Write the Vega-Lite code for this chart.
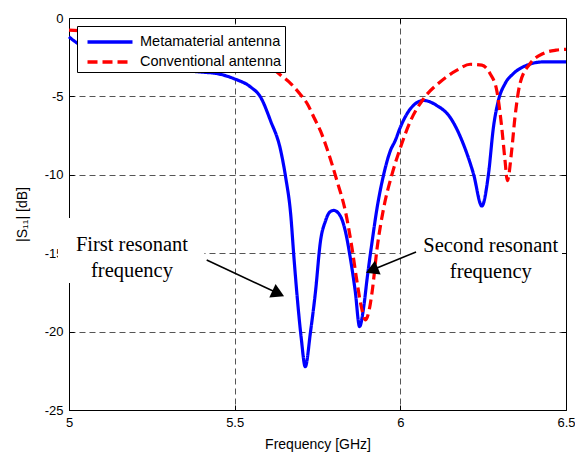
{
  "$schema": "https://vega.github.io/schema/vega-lite/v6.json",
  "width": 497,
  "height": 392,
  "autosize": {"type": "none"},
  "padding": {"left": 69, "top": 18, "right": 9, "bottom": 42},
  "background": "white",
  "config": {
    "view": {"stroke": "black", "strokeWidth": 1},
    "font": "Liberation Sans",
    "axis": {
      "labelFont": "Liberation Sans",
      "titleFont": "Liberation Sans",
      "labelFontSize": 13,
      "titleFontSize": 14,
      "titleFontWeight": "normal",
      "labelColor": "black",
      "titleColor": "black",
      "domainColor": "black",
      "tickColor": "black",
      "tickSize": -5,
      "labelFlush": false,
      "gridDash": [6, 4],
      "gridColor": "#555555",
      "gridWidth": 1
    },
    "legend": {
      "orient": "top-left",
      "offset": 8,
      "fillColor": "white",
      "strokeColor": "black",
      "padding": 3,
      "labelFont": "Liberation Sans",
      "labelFontSize": 14.5,
      "labelColor": "black",
      "symbolType": "M-2,0H2",
      "symbolSize": 506,
      "symbolStrokeWidth": 3.5,
      "rowPadding": -0.5,
      "labelOffset": 17,
      "symbolOffset": 17,
      "labelLimit": 300
    }
  },
  "datasets": {
    "curves": [
      {"antenna": "Metamaterial antenna", "f": 5.000, "s11": -1.20},
      {"antenna": "Metamaterial antenna", "f": 5.026, "s11": -1.62},
      {"antenna": "Metamaterial antenna", "f": 5.060, "s11": -2.00},
      {"antenna": "Metamaterial antenna", "f": 5.100, "s11": -2.30},
      {"antenna": "Metamaterial antenna", "f": 5.150, "s11": -2.60},
      {"antenna": "Metamaterial antenna", "f": 5.200, "s11": -2.85},
      {"antenna": "Metamaterial antenna", "f": 5.250, "s11": -3.05},
      {"antenna": "Metamaterial antenna", "f": 5.300, "s11": -3.20},
      {"antenna": "Metamaterial antenna", "f": 5.350, "s11": -3.35},
      {"antenna": "Metamaterial antenna", "f": 5.400, "s11": -3.45},
      {"antenna": "Metamaterial antenna", "f": 5.448, "s11": -3.55},
      {"antenna": "Metamaterial antenna", "f": 5.498, "s11": -3.87},
      {"antenna": "Metamaterial antenna", "f": 5.548, "s11": -4.40},
      {"antenna": "Metamaterial antenna", "f": 5.578, "s11": -5.04},
      {"antenna": "Metamaterial antenna", "f": 5.608, "s11": -6.54},
      {"antenna": "Metamaterial antenna", "f": 5.639, "s11": -8.46},
      {"antenna": "Metamaterial antenna", "f": 5.654, "s11": -10.17},
      {"antenna": "Metamaterial antenna", "f": 5.669, "s11": -12.50},
      {"antenna": "Metamaterial antenna", "f": 5.679, "s11": -15.30},
      {"antenna": "Metamaterial antenna", "f": 5.689, "s11": -17.86},
      {"antenna": "Metamaterial antenna", "f": 5.701, "s11": -20.43},
      {"antenna": "Metamaterial antenna", "f": 5.713, "s11": -22.24},
      {"antenna": "Metamaterial antenna", "f": 5.729, "s11": -20.00},
      {"antenna": "Metamaterial antenna", "f": 5.744, "s11": -17.44},
      {"antenna": "Metamaterial antenna", "f": 5.759, "s11": -14.23},
      {"antenna": "Metamaterial antenna", "f": 5.774, "s11": -12.95},
      {"antenna": "Metamaterial antenna", "f": 5.786, "s11": -12.40},
      {"antenna": "Metamaterial antenna", "f": 5.799, "s11": -12.27},
      {"antenna": "Metamaterial antenna", "f": 5.819, "s11": -12.63},
      {"antenna": "Metamaterial antenna", "f": 5.834, "s11": -13.59},
      {"antenna": "Metamaterial antenna", "f": 5.849, "s11": -15.30},
      {"antenna": "Metamaterial antenna", "f": 5.864, "s11": -17.44},
      {"antenna": "Metamaterial antenna", "f": 5.877, "s11": -19.68},
      {"antenna": "Metamaterial antenna", "f": 5.889, "s11": -18.50},
      {"antenna": "Metamaterial antenna", "f": 5.900, "s11": -16.58},
      {"antenna": "Metamaterial antenna", "f": 5.915, "s11": -14.23},
      {"antenna": "Metamaterial antenna", "f": 5.930, "s11": -12.09},
      {"antenna": "Metamaterial antenna", "f": 5.950, "s11": -9.96},
      {"antenna": "Metamaterial antenna", "f": 5.970, "s11": -8.46},
      {"antenna": "Metamaterial antenna", "f": 5.985, "s11": -7.80},
      {"antenna": "Metamaterial antenna", "f": 6.000, "s11": -6.97},
      {"antenna": "Metamaterial antenna", "f": 6.030, "s11": -5.80},
      {"antenna": "Metamaterial antenna", "f": 6.070, "s11": -5.26},
      {"antenna": "Metamaterial antenna", "f": 6.110, "s11": -5.58},
      {"antenna": "Metamaterial antenna", "f": 6.150, "s11": -6.33},
      {"antenna": "Metamaterial antenna", "f": 6.190, "s11": -8.03},
      {"antenna": "Metamaterial antenna", "f": 6.221, "s11": -9.96},
      {"antenna": "Metamaterial antenna", "f": 6.246, "s11": -11.99},
      {"antenna": "Metamaterial antenna", "f": 6.266, "s11": -9.96},
      {"antenna": "Metamaterial antenna", "f": 6.281, "s11": -6.97},
      {"antenna": "Metamaterial antenna", "f": 6.296, "s11": -5.26},
      {"antenna": "Metamaterial antenna", "f": 6.316, "s11": -4.19},
      {"antenna": "Metamaterial antenna", "f": 6.341, "s11": -3.55},
      {"antenna": "Metamaterial antenna", "f": 6.382, "s11": -3.01},
      {"antenna": "Metamaterial antenna", "f": 6.432, "s11": -2.80},
      {"antenna": "Metamaterial antenna", "f": 6.500, "s11": -2.80},
      {"antenna": "Conventional antenna", "f": 5.000, "s11": -0.77},
      {"antenna": "Conventional antenna", "f": 5.030, "s11": -0.80},
      {"antenna": "Conventional antenna", "f": 5.100, "s11": -0.90},
      {"antenna": "Conventional antenna", "f": 5.200, "s11": -1.10},
      {"antenna": "Conventional antenna", "f": 5.300, "s11": -1.40},
      {"antenna": "Conventional antenna", "f": 5.400, "s11": -1.80},
      {"antenna": "Conventional antenna", "f": 5.500, "s11": -2.30},
      {"antenna": "Conventional antenna", "f": 5.550, "s11": -2.60},
      {"antenna": "Conventional antenna", "f": 5.600, "s11": -3.00},
      {"antenna": "Conventional antenna", "f": 5.639, "s11": -3.65},
      {"antenna": "Conventional antenna", "f": 5.670, "s11": -4.20},
      {"antenna": "Conventional antenna", "f": 5.699, "s11": -4.90},
      {"antenna": "Conventional antenna", "f": 5.720, "s11": -5.50},
      {"antenna": "Conventional antenna", "f": 5.739, "s11": -6.33},
      {"antenna": "Conventional antenna", "f": 5.759, "s11": -7.20},
      {"antenna": "Conventional antenna", "f": 5.779, "s11": -8.35},
      {"antenna": "Conventional antenna", "f": 5.809, "s11": -10.40},
      {"antenna": "Conventional antenna", "f": 5.834, "s11": -12.31},
      {"antenna": "Conventional antenna", "f": 5.854, "s11": -14.66},
      {"antenna": "Conventional antenna", "f": 5.869, "s11": -16.79},
      {"antenna": "Conventional antenna", "f": 5.881, "s11": -18.29},
      {"antenna": "Conventional antenna", "f": 5.895, "s11": -19.25},
      {"antenna": "Conventional antenna", "f": 5.905, "s11": -18.72},
      {"antenna": "Conventional antenna", "f": 5.915, "s11": -17.44},
      {"antenna": "Conventional antenna", "f": 5.930, "s11": -14.66},
      {"antenna": "Conventional antenna", "f": 5.950, "s11": -12.09},
      {"antenna": "Conventional antenna", "f": 5.975, "s11": -9.96},
      {"antenna": "Conventional antenna", "f": 6.003, "s11": -8.10},
      {"antenna": "Conventional antenna", "f": 6.030, "s11": -6.60},
      {"antenna": "Conventional antenna", "f": 6.070, "s11": -5.15},
      {"antenna": "Conventional antenna", "f": 6.120, "s11": -4.08},
      {"antenna": "Conventional antenna", "f": 6.171, "s11": -3.33},
      {"antenna": "Conventional antenna", "f": 6.211, "s11": -2.95},
      {"antenna": "Conventional antenna", "f": 6.246, "s11": -3.01},
      {"antenna": "Conventional antenna", "f": 6.271, "s11": -3.55},
      {"antenna": "Conventional antenna", "f": 6.291, "s11": -4.62},
      {"antenna": "Conventional antenna", "f": 6.306, "s11": -6.97},
      {"antenna": "Conventional antenna", "f": 6.316, "s11": -9.10},
      {"antenna": "Conventional antenna", "f": 6.323, "s11": -10.38},
      {"antenna": "Conventional antenna", "f": 6.336, "s11": -8.46},
      {"antenna": "Conventional antenna", "f": 6.346, "s11": -6.33},
      {"antenna": "Conventional antenna", "f": 6.361, "s11": -4.19},
      {"antenna": "Conventional antenna", "f": 6.392, "s11": -2.90},
      {"antenna": "Conventional antenna", "f": 6.432, "s11": -2.26},
      {"antenna": "Conventional antenna", "f": 6.470, "s11": -2.05},
      {"antenna": "Conventional antenna", "f": 6.500, "s11": -2.00}
    ],
    "boxes": [
      {"f": 4.9668, "f2": 5.4086, "s11": -12.76, "s112": -16.9},
      {"f": 6.002, "f2": 6.488, "s11": -12.88, "s112": -16.2}
    ],
    "notes": [
      {"label": "First resonant\nfrequency", "f": 5.190, "s11": -14.48},
      {"label": "Second resonant\nfrequency", "f": 6.273, "s11": -14.54}
    ],
    "arrows": [
      {"f": 5.4156, "s11": -15.43, "f2": 5.6257, "s112": -17.51},
      {"f": 6.0474, "s11": -14.92, "f2": 5.920, "s112": -16.03}
    ],
    "head1": [{"f": 5.6257, "s11": -17.51}],
    "head2": [{"f": 5.920, "s11": -16.03}]
  },
  "resolve": {"axis": {"x": "independent", "y": "independent"}},
  "layer": [
    {
      "data": {"name": "boxes"},
      "mark": {"type": "rect", "color": "white", "strokeWidth": 0},
      "encoding": {
        "x": {"field": "f", "type": "quantitative", "scale": {"domain": [5, 6.5], "nice": false, "zero": false}, "axis": null},
        "x2": {"field": "f2"},
        "y": {"field": "s11", "type": "quantitative", "scale": {"domain": [-25, 0], "nice": false, "zero": false}, "axis": null},
        "y2": {"field": "s112"}
      }
    },
    {
      "data": {"name": "curves"},
      "transform": [{"filter": "datum.antenna == 'Metamaterial antenna'"}],
      "mark": {"type": "line", "strokeWidth": 3.2, "interpolate": "monotone"},
      "encoding": {
        "x": {
          "field": "f", "type": "quantitative",
          "axis": {
            "orient": "bottom",
            "values": [5, 5.5, 6, 6.5],
            "title": "Frequency [GHz]",
            "labelExpr": "'' + datum.value",
            "labelPadding": 11,
            "titlePadding": 8,
            "grid": true,
            "gridOpacity": {"condition": {"test": "datum.value <= 5 || datum.value >= 6.5", "value": 0}, "value": 1}
          }
        },
        "y": {
          "field": "s11", "type": "quantitative",
          "axis": {
            "orient": "left",
            "values": [-25, -20, -15, -10, -5, 0],
            "title": "|S₁₁| [dB]",
            "labelExpr": "'' + datum.value",
            "labelPadding": 11,
            "titlePadding": 15,
            "grid": true,
            "gridOpacity": {"condition": {"test": "datum.value <= -25 || datum.value >= 0", "value": 0}, "value": 1}
          }
        },
        "color": {
          "field": "antenna", "type": "nominal", "title": null,
          "scale": {"domain": ["Metamaterial antenna", "Conventional antenna"], "range": ["#0000ff", "#ff0000"]}
        },
        "strokeDash": {
          "field": "antenna", "type": "nominal", "title": null,
          "scale": {"domain": ["Metamaterial antenna", "Conventional antenna"], "range": [[1, 0], [10, 5]]}
        }
      }
    },
    {
      "data": {"name": "curves"},
      "transform": [{"filter": "datum.antenna == 'Conventional antenna'"}],
      "mark": {"type": "line", "strokeWidth": 3.2, "interpolate": "monotone"},
      "encoding": {
        "x": {"field": "f", "type": "quantitative", "axis": null},
        "y": {"field": "s11", "type": "quantitative", "axis": null},
        "color": {"field": "antenna", "type": "nominal", "title": null},
        "strokeDash": {"field": "antenna", "type": "nominal", "title": null}
      }
    },
    {
      "data": {"name": "notes"},
      "mark": {"type": "text", "font": "Liberation Serif", "fontSize": 20.5, "lineBreak": "\n", "lineHeight": 26, "align": "center", "baseline": "middle", "color": "black"},
      "encoding": {
        "x": {"field": "f", "type": "quantitative", "axis": null},
        "y": {"field": "s11", "type": "quantitative", "axis": null},
        "text": {"field": "label"}
      }
    },
    {
      "data": {"name": "arrows"},
      "mark": {"type": "rule", "color": "black", "strokeWidth": 1.6},
      "encoding": {
        "x": {"field": "f", "type": "quantitative", "axis": {"orient": "top", "values": [5.5, 6], "labels": false, "domain": false, "grid": false, "title": null}},
        "y": {"field": "s11", "type": "quantitative", "axis": {"orient": "right", "values": [-20, -15, -10, -5], "labels": false, "domain": false, "grid": false, "title": null}},
        "x2": {"field": "f2"},
        "y2": {"field": "s112"}
      }
    },
    {
      "data": {"name": "head1"},
      "mark": {"type": "point", "shape": "triangle", "filled": true, "color": "black", "opacity": 1, "size": 220, "angle": 115, "strokeWidth": 0},
      "encoding": {
        "x": {"field": "f", "type": "quantitative", "axis": null},
        "y": {"field": "s11", "type": "quantitative", "axis": null}
      }
    },
    {
      "data": {"name": "head2"},
      "mark": {"type": "point", "shape": "triangle", "filled": true, "color": "black", "opacity": 1, "size": 220, "angle": 247.5, "strokeWidth": 0},
      "encoding": {
        "x": {"field": "f", "type": "quantitative", "axis": null},
        "y": {"field": "s11", "type": "quantitative", "axis": null}
      }
    }
  ]
}
